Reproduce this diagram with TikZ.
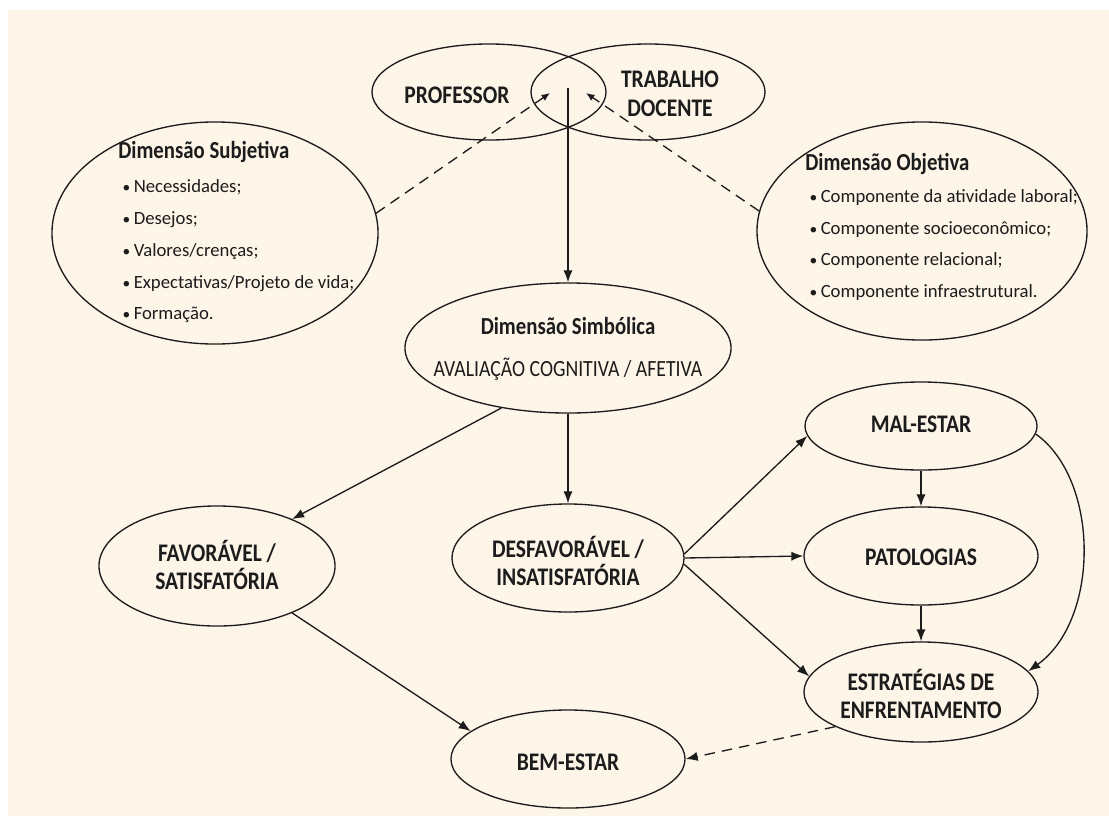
\documentclass[tikz,border=0pt]{standalone}
\usepackage{fontspec}
\setmainfont{Carlito}
\newfontfamily\capsfont[FakeStretch=0.85]{Carlito}
\usetikzlibrary{shapes.geometric,arrows.meta}
\definecolor{paper}{RGB}{253,245,232}
\definecolor{ink}{RGB}{28,28,28}
\newcommand{\dimitem}{\hspace*{3pt}\makebox[8pt][l]{\fontsize{11}{11}\selectfont •}}
\newcommand{\dimtitle}[1]{{\capsfont\bfseries\fontsize{17.4}{22.6}\selectfont #1}}
\tikzstyle{bubble} = [draw=ink, ellipse, line width=0.95pt, inner sep=0pt]
\tikzstyle{caps} = [text=ink, align=center, inner sep=0pt,
    font=\capsfont\bfseries\fontsize{18}{20.5}\selectfont]
\tikzstyle{dimtext} = [text=ink, align=left, anchor=north west, inner sep=0pt,
    font=\fontsize{13.3}{22.6}\selectfont]
\tikzstyle{link} = [draw=ink, line width=0.95pt, ->]
\tikzstyle{hint} = [link, dash pattern=on 7.5pt off 5pt]
\tikzstyle{small} = [-{Latex[length=6pt,width=5pt]}]

\begin{document}
\begin{tikzpicture}[x=0.025cm, y=-0.025cm, >={Latex[length=8.5pt,width=6.5pt]}]
    \useasboundingbox (0,0) rectangle (1109,816);
    \fill [white] (0,0) rectangle (1109,816);
    \fill [paper] (8,10) rectangle (1109,816);
    \node [bubble, minimum width=5.85cm, minimum height=2.4cm] (prof) at (489,92) {};
    \node [bubble, minimum width=5.85cm, minimum height=2.4cm] (trab) at (648,92) {};
    \node [bubble, minimum width=8.15cm, minimum height=5.55cm] (subj) at (215,233) {};
    \node [bubble, minimum width=8.25cm, minimum height=5.45cm] (obj) at (922,231) {};
    \node [bubble, minimum width=8.15cm, minimum height=3.25cm] (simb) at (568,348) {};
    \node [bubble, minimum width=5.9cm, minimum height=3cm] (fav) at (217,566) {};
    \node [bubble, minimum width=5.8cm, minimum height=2.7cm] (desf) at (568,558) {};
    \node [bubble, minimum width=5.8cm, minimum height=2.2cm] (mal) at (921,426) {};
    \node [bubble, minimum width=5.85cm, minimum height=2.45cm] (pat) at (921,556) {};
    \node [bubble, minimum width=5.85cm, minimum height=2.5cm] (estr) at (921,692) {};
    \node [bubble, minimum width=5.85cm, minimum height=2.45cm] (bem) at (568,759) {};
    \node [caps] (prof-t) at (457,95) {PROFESSOR};
    \node [caps] (trab-t) at (670,94) {TRABALHO\\DOCENTE};
    \node [dimtext] (subj-t) at (118,141) {\dimtitle{Dimensão Subjetiva}\\[1.7pt]
        \dimitem Necessidades;\\
        \dimitem Desejos;\\
        \dimitem Valores/crenças;\\
        \dimitem Expectativas/Projeto de vida;\\
        \dimitem Formação.};
    \node [dimtext] (obj-t) at (805,153) {\dimtitle{Dimensão Objetiva}\\
        \dimitem Componente da atividade laboral;\\
        \dimitem Componente socioeconômico;\\
        \dimitem Componente relacional;\\
        \dimitem Componente infraestrutural.};
    \node [text=ink, align=center, font=\capsfont\fontsize{16.5}{30}\selectfont] (simb-t) at (568,349)
        {\dimtitle{Dimensão Simbólica}\\AVALIAÇÃO COGNITIVA / AFETIVA};
    \node [caps] (fav-t) at (217,565) {FAVORÁVEL /\\SATISFATÓRIA};
    \node [caps] (desf-t) at (568,561) {DESFAVORÁVEL /\\INSATISFATÓRIA};
    \node [caps] (mal-t) at (921,424) {MAL-ESTAR};
    \node [caps] (pat-t) at (921,557) {PATOLOGIAS};
    \node [caps] (estr-t) at (921,694) {ESTRATÉGIAS DE\\ENFRENTAMENTO};
    \node [caps] (bem-t) at (568,762) {BEM-ESTAR};
    \coordinate (meet) at (568,88);
    \coordinate (tipL) at (550,93);
    \coordinate (tipR) at (586,93);
    \draw [link] (meet) -- (simb);
    \draw [hint, small] (subj.7) -- (tipL);
    \draw [hint, small] (obj.173) -- (tipR);
    \draw [link] (simb.222) -- (fav.32);
    \draw [link] (simb) -- (desf);
    \draw [link] (desf.2) -- (mal.185);
    \draw [link] (desf.east) -- (pat.west);
    \draw [link] (desf.-3) -- (estr.172);
    \draw [link] (mal) -- (pat);
    \draw [link] (pat) -- (estr);
    \draw [link] (mal.-4) .. controls (1100,480) and (1100,620) .. (estr.11);
    \draw [link] (fav.-32) -- (bem.164);
    \draw [hint] (estr.202) -- (bem.east);
\end{tikzpicture}
\end{document}
